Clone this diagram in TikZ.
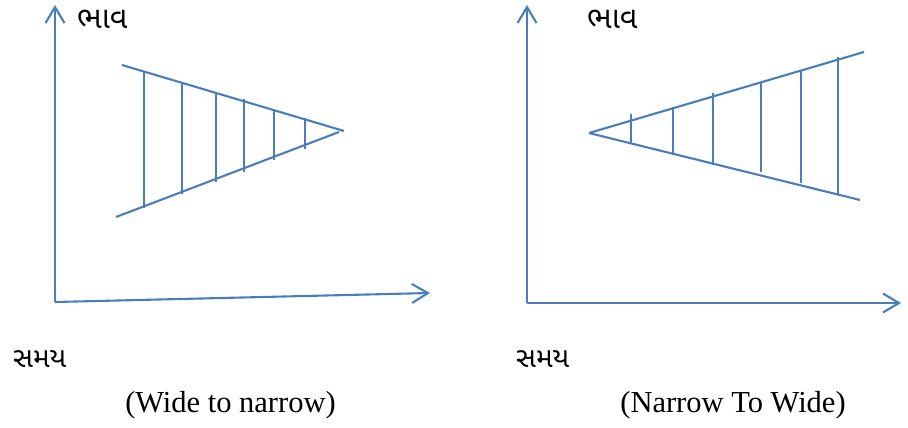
\documentclass[tikz,border=0pt]{standalone}
\usepackage{fontspec}
\setmainfont{Liberation Serif}
\newfontfamily\guj[Script=Gujarati]{Noto Sans Gujarati UI}
\usetikzlibrary{arrows.meta}
\definecolor{lineblue}{HTML}{4A7EBB}
\tikzset{
  axisline/.style={draw=lineblue, line width=2.1pt, -{Straight Barb[length=16pt,width=19pt,line width=2.1pt]}},
  edgeline/.style={draw=lineblue, line width=2.1pt},
  rung/.style={draw=lineblue, line width=2.1pt},
  gujlabel/.style={font=\guj\fontsize{28}{30}\selectfont, inner sep=0pt},
  gujtop/.style={font=\guj\fontsize{30.5}{32}\selectfont, inner sep=0pt},
  caption/.style={font=\fontsize{30.5}{32}\selectfont, inner sep=0pt}
}
\begin{document}
\begin{tikzpicture}[x=1pt,y=-1pt]
\useasboundingbox (0,0) rectangle (908,428);
% ---------- left panel ----------
\coordinate (LO) at (55,302);
\coordinate (LY) at (55,5);
\coordinate (LX) at (430,293);
\draw[axisline] (LO) -- (LY);
\draw[axisline] (LO) -- (LX);
\coordinate (LU1) at (122,65);
\coordinate (LU2) at (344,131);
\coordinate (LD1) at (116,217);
\coordinate (LD2) at (339,132);
\draw[edgeline] (LU1) -- (LU2);
\draw[edgeline] (LD1) -- (LD2);
\foreach \x/\t/\b [count=\i] in {144/72/208,182/83/194,216/93/182,244/99/172,274/110/160,305/118/149}{
  \coordinate (LRt\i) at (\x,\t);
  \coordinate (LRb\i) at (\x,\b);
  \draw[rung] (LRt\i) -- (LRb\i);
}
\node[gujtop, anchor=base west] (LBhav) at (77,29) {ભાવ};
\node[gujlabel, anchor=base west] (LSamay) at (13,367) {સમય};
\node[caption, anchor=base] (LCap) at (230.5,412) {(Wide to narrow)};
% ---------- right panel ----------
\coordinate (RO) at (527,303);
\coordinate (RY) at (527,5);
\coordinate (RX) at (901,303);
\draw[axisline] (RO) -- (RY);
\draw[axisline] (RO) -- (RX);
\coordinate (RA) at (589,133);
\coordinate (RU2) at (864,52);
\coordinate (RD2) at (860,200);
\draw[edgeline] (RA) -- (RU2);
\draw[edgeline] (RA) -- (RD2);
\foreach \x/\t/\b [count=\i] in {631/114/143,673/107/155,713/93/165,761/83/172,801/70/183,838/57/194}{
  \coordinate (RRt\i) at (\x,\t);
  \coordinate (RRb\i) at (\x,\b);
  \draw[rung] (RRt\i) -- (RRb\i);
}
\node[gujtop, anchor=base west] (RBhav) at (587,29) {ભાવ};
\node[gujlabel, anchor=base west] (RSamay) at (516,367) {સમય};
\node[caption, anchor=base] (RCap) at (733,412) {(Narrow To Wide)};
\end{tikzpicture}
\end{document}
